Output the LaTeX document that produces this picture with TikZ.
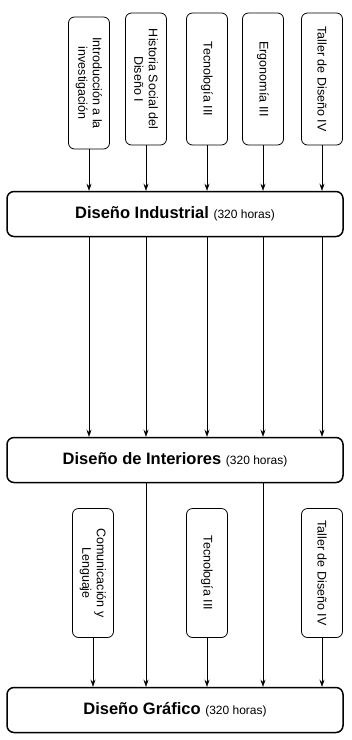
\documentclass[tikz,border=0pt]{standalone}
\usepackage{fontspec}
\setmainfont{Liberation Sans}
\usetikzlibrary{arrows.meta}
\tikzset{
  area/.style={draw, rounded corners=7pt, line width=1.5pt, minimum width=336pt, minimum height=45pt, font=\fontsize{16.5}{19}\selectfont\bfseries},
  course/.style={draw, rounded corners=6pt, line width=0.8pt, rotate=-90, minimum width=132pt, minimum height=41pt, align=center, inner sep=2pt, font=\fontsize{12.5}{14.5}\selectfont},
  link/.style={-{Stealth[length=7pt,width=5pt]}, line width=0.6pt}
}
\newcommand{\hrs}{{\fontsize{12}{14}\selectfont\mdseries (320 horas)}}
\begin{document}
\begin{tikzpicture}[x=1pt,y=-1pt]
\useasboundingbox (0,0) rectangle (352,740);
% first semester courses
\node[course] (t1) at (89,83) {Introducción a la\\investigación};
\node[course] (t2) at (146,79) {Historia Social del\\Diseño I};
\node[course] (t3) at (207,79) {Tecnología III};
\node[course] (t4) at (263,79) {Ergonomía III};
\node[course] (t5) at (322,79) {Taller de Diseño IV};
% areas
\node[area] (ind) at (175,214) {Diseño Industrial \hrs};
\node[area] (int) at (175,460) {Diseño de Interiores \hrs};
\node[area] (gra) at (175,710) {Diseño Gráfico \hrs};
% second group of courses
\node[course, minimum width=129pt] (b1) at (93,573) {Comunicación y\\Lenguaje};
\node[course, minimum width=129pt] (b2) at (207,573) {Tecnología III};
\node[course, minimum width=129pt] (b3) at (322,573) {Taller de Diseño IV};
% arrows
\foreach \c in {t1,t2,t3,t4,t5} {
  \draw[link] (\c) -- (\c |- ind.north);
  \draw[link] (\c |- ind.south) -- (\c |- int.north);
}
\foreach \c in {t2,t4}
  \draw[link] (\c |- int.south) -- (\c |- gra.north);
\foreach \c in {b1,b2,b3}
  \draw[link] (\c) -- (\c |- gra.north);
\end{tikzpicture}
\end{document}
